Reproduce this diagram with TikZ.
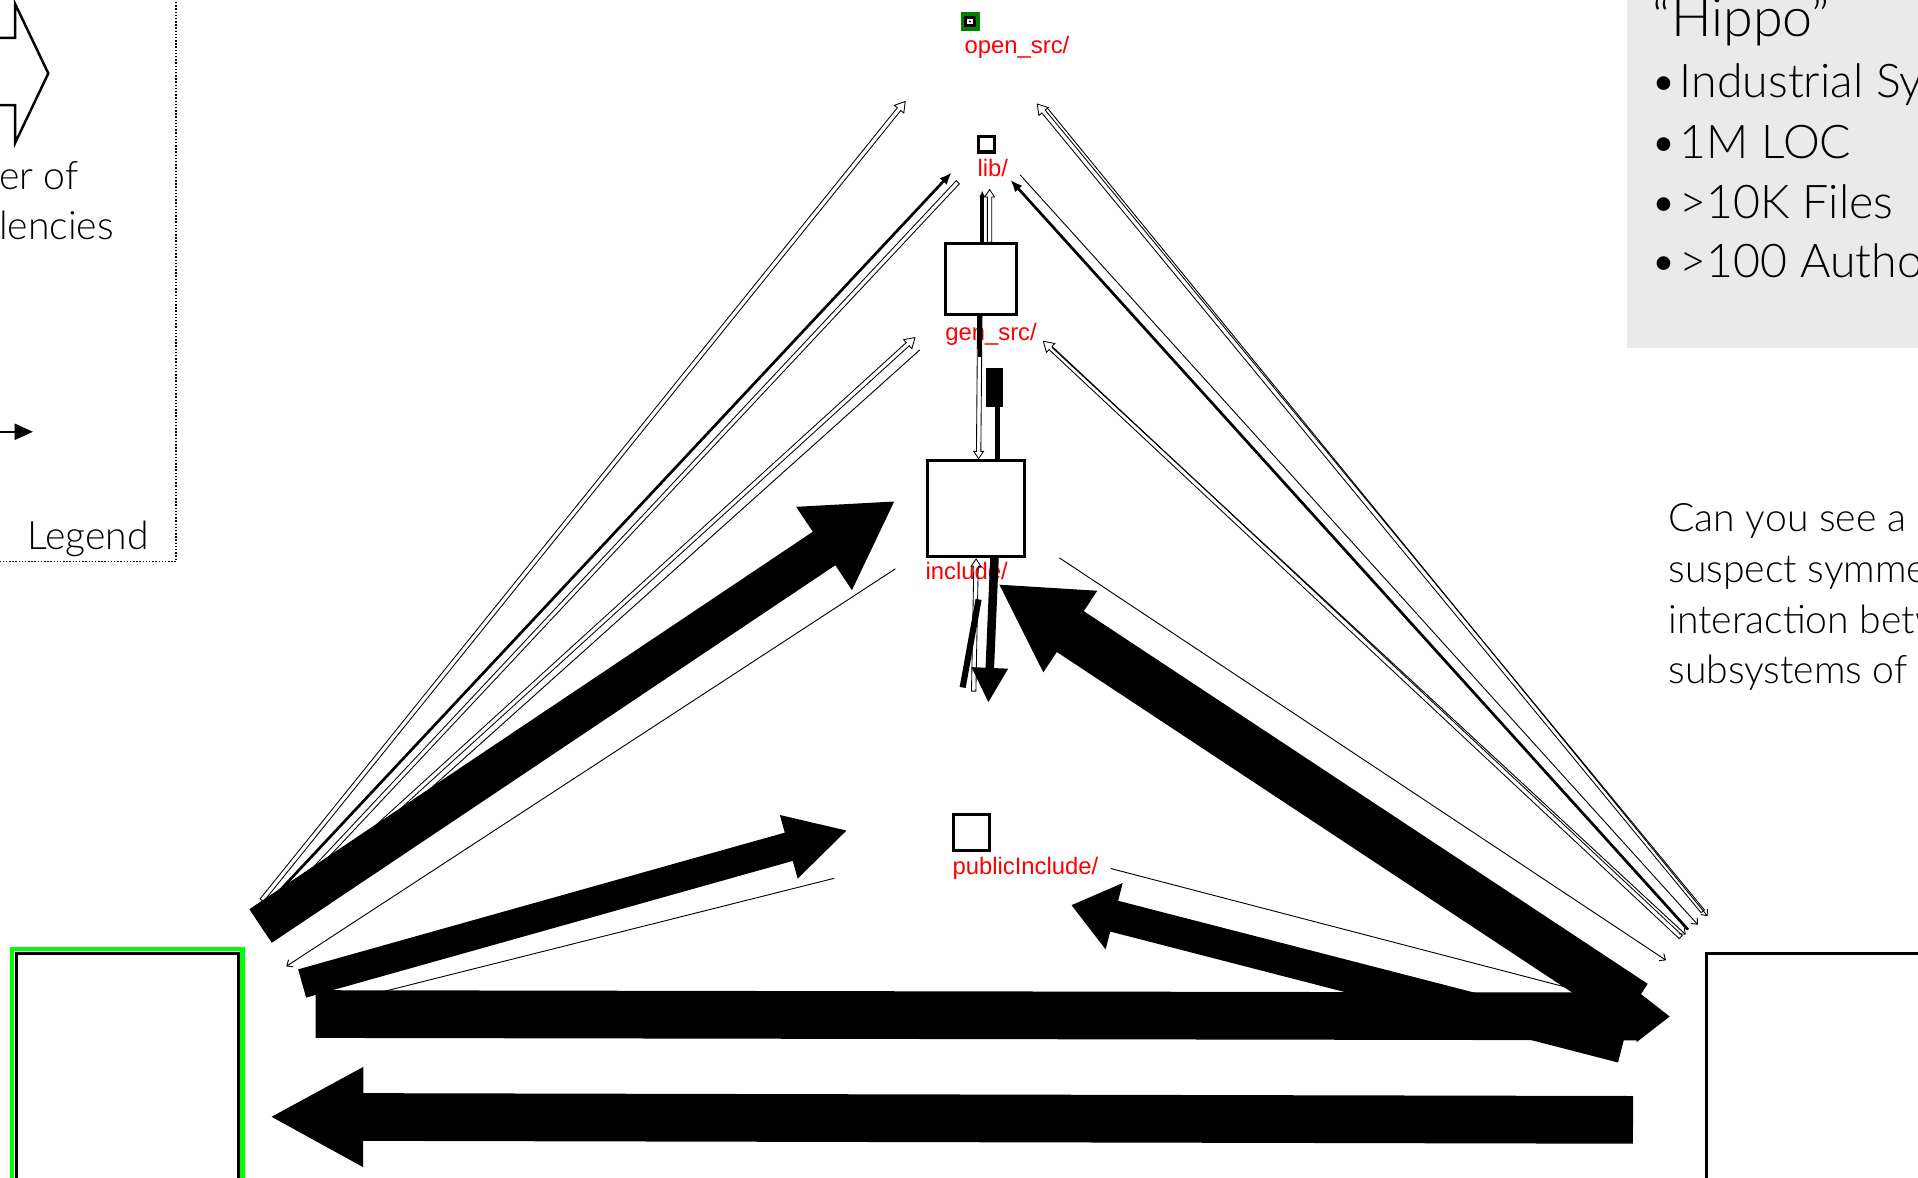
\documentclass[tikz,border=0pt]{standalone}
\usepackage{fontspec}
\IfFontExistsTF{Lato Light}{\setmainfont{Lato Light}}{\setmainfont{Lato}}
\newfontfamily\labfont{Liberation Sans}
\usetikzlibrary{calc,arrows.meta}
\definecolor{panelgray}{RGB}{234,234,234}
\definecolor{labred}{RGB}{255,0,0}
\definecolor{ringgreen}{RGB}{0,255,0}
\definecolor{osgreen}{RGB}{0,128,0}
\tikzset{
  box/.style={draw=black, line width=2.5pt, fill=white, inner sep=0pt, outer sep=0pt},
  lab/.style={text=labred, font=\labfont\fontsize{19.5}{22}\selectfont, anchor=base west, inner sep=0pt},
  slidetext/.style={font=\fontsize{32}{38}\selectfont, anchor=base west, inner sep=0pt, text=black},
  bullettext/.style={font=\fontsize{38}{44}\selectfont, anchor=base west, inner sep=0pt, text=black},
  fatarrow/.style={fill=black},
  hollowarrow/.style={draw=black, line width=0.7pt, line join=miter},
  solidarrow/.style={draw=black, line width=2.2pt, -{Latex[length=10pt,width=8pt]}},
  thinarrow/.style={draw=black, line width=0.75pt, -{Straight Barb[length=4pt,width=7pt]}},
  thinline/.style={draw=black, line width=0.75pt},
}
% block arrow: [style]{tail}{tip}{shaft half width}{head half width}{head length}
\newcommand{\blockarr}[6][]{%
  \coordinate (bahead) at ($(#3)!#6!(#2)$);
  \path[#1] ($(#2)!#4!90:(#3)$) -- ($(bahead)!#4!90:(#3)$) -- ($(bahead)!#5!90:(#3)$) -- (#3)
     -- ($(bahead)!#5!-90:(#3)$) -- ($(bahead)!#4!-90:(#3)$) -- ($(#2)!#4!-90:(#3)$) -- cycle;
}
\newcommand{\blt}{\makebox[10pt][c]{•}\hspace{8pt}}
\begin{document}
\begin{tikzpicture}[x=1pt,y=-1pt]
\useasboundingbox (0,0) rectangle (1568,963);
\clip (0,0) rectangle (1568,963);
\fill[white] (0,0) rectangle (1568,963);

% ---------- right info panel ----------
\node[fill=panelgray, minimum width=250, minimum height=290, anchor=north west, inner sep=0pt] (panel) at (1330,-6) {};
\node[anchor=base west, inner sep=0pt, font=\fontsize{44}{50}\selectfont] (hippo) at (1351,30) {“Hippo”};
\node[bullettext] (b1) at (1355,80) {\blt Industrial Sys};
\node[bullettext] (b2) at (1355,129.5) {\blt 1M LOC};
\node[bullettext] (b3) at (1355,178.5) {\blt >10K Files};
\node[bullettext] (b4) at (1355,227) {\blt >100 Autho};

\node[slidetext] (q1) at (1363.7,434.5) {Can you see a};
\node[slidetext] (q2) at (1363.7,476) {suspect symme};
\node[slidetext] (q3) at (1363.7,517.5) {interaction betw};
\node[slidetext] (q4) at (1363.7,559) {subsystems of t};

% ---------- legend ----------
\draw[line width=1.2pt, dash pattern=on 1.2pt off 1.4pt] (-6,-6) rectangle (144,459);
\draw[line width=2pt, line join=miter] (-6,31) -- (12.3,31) -- (12.3,3) -- (39.5,60) -- (12.3,117) -- (12.3,86) -- (-6,86);
\node[slidetext] (legA) at (-1,155) {er of};
\node[slidetext] (legB) at (-1,196) {lencies};
\coordinate (legS) at (-6,353);
\coordinate (legE) at (27,353);
\draw[line width=2pt, -{Triangle[length=15pt,width=13pt]}] (legS) -- (legE);
\node[slidetext] (legend) at (22,449) {Legend};

% ---------- red labels ----------
\node[lab] (lab-os) at (788.4,43.6) {open\_src/};
\node[lab] (lab-lib) at (799,144.4) {lib/};
\node[lab] (lab-gen) at (772.6,278) {gen\_src/};
\node[lab] (lab-inc) at (756.5,474) {include/};
\node[lab] (lab-pub) at (778.5,715.3) {publicInclude/};

% ---------- connector end points ----------
% left fan
\coordinate (L1) at (214,736);   \coordinate (os1) at (740,83);
\coordinate (L2) at (211,747);   \coordinate (lib1) at (778,141);
\coordinate (lib2) at (783,149); \coordinate (L3) at (221,749);
\coordinate (L4) at (238,740);   \coordinate (gen1) at (748,276);
\coordinate (gen2) at (752,286); \coordinate (L5) at (230,754);
\coordinate (L6) at (213,757);   \coordinate (inc1) at (731,410);
\coordinate (inc2) at (732,465); \coordinate (L7) at (234,790);
\coordinate (L8) at (247,804);   \coordinate (pub1) at (692,679);
\coordinate (pub2) at (682,718); \coordinate (L9) at (268,822);
\coordinate (L10) at (258,829);  \coordinate (R1) at (1365,831);
\coordinate (R2) at (1335,915.5);\coordinate (L11) at (222,913);
% right fan
\coordinate (R3) at (1392,745);  \coordinate (os2) at (848,85);
\coordinate (os3) at (856,88);   \coordinate (R4) at (1396,749);
\coordinate (R5) at (1380,760);  \coordinate (lib3) at (826,147);
\coordinate (lib4) at (834,143); \coordinate (R6) at (1388,756);
\coordinate (R7) at (1374,766);  \coordinate (gen3) at (853,279);
\coordinate (gen4) at (860,284); \coordinate (R8) at (1378,764);
\coordinate (inc3) at (866,456); \coordinate (R9) at (1362,785);
\coordinate (pub3) at (908,710); \coordinate (R10) at (1330,820);
\coordinate (R11) at (1336,821); \coordinate (inc4) at (817,478);
\coordinate (R12) at (1326,856); \coordinate (pub4) at (876,740);
% centre column
\coordinate (gen5) at (803,198); \coordinate (lib5) at (803,156);
\coordinate (gen6) at (809,198); \coordinate (lib6) at (809,155);
\coordinate (gen7) at (801,258); \coordinate (gen7b) at (801,292); \coordinate (inc5) at (800,375);
\coordinate (inc6) at (815.5,375); \coordinate (gen8) at (815.5,333);
\coordinate (inc7) at (813,456); \coordinate (pub5) at (808,574);
\coordinate (inc8) at (800,490); \coordinate (pub6) at (787,562);
\coordinate (pub7) at (796,565); \coordinate (inc9) at (798,457);

% ---------- thin connectors ----------
\blockarr[hollowarrow]{L1}{os1}{1.8pt}{5pt}{8pt}
\blockarr[hollowarrow]{lib2}{L3}{1.8pt}{5pt}{8pt}
\blockarr[hollowarrow]{L4}{gen1}{1.8pt}{5pt}{8pt}
\draw[thinarrow] (gen2) -- (L5);
\draw[thinarrow] (inc2) -- (L7);
\draw[thinline] (pub2) -- (L9);
\draw[solidarrow] (L2) -- (lib1);

\blockarr[hollowarrow]{R3}{os2}{1.8pt}{5pt}{8pt}
\draw[thinarrow] (os3) -- (R4);
\draw[solidarrow] (R5) -- (lib3);
\draw[thinarrow] (lib4) -- (R6);
\blockarr[hollowarrow]{R7}{gen3}{1.8pt}{5pt}{8pt}
\draw[thinarrow] (gen4) -- (R8);
\draw[thinarrow] (inc3) -- (R9);
\draw[thinline] (pub3) -- (R10);

% centre column
\draw[line width=3pt, -{Latex[length=5pt,width=5pt]}] (gen5) -- (lib5);
\blockarr[hollowarrow]{gen6}{lib6}{1.8pt}{4pt}{6pt}
\draw[line width=3pt] (gen7) -- (gen7b);
\blockarr[hollowarrow]{gen7}{inc5}{1.8pt}{4pt}{6pt}
\draw[line width=4.5pt] (inc6) -- (gen8);
\fill (806,301) rectangle (820,333);
\draw[line width=5pt] (inc8) -- (pub6);
\blockarr[hollowarrow]{pub7}{inc9}{1.8pt}{4pt}{6pt}

% ---------- fat connectors ----------
\blockarr[fatarrow]{L6}{inc1}{16.5pt}{41pt}{69pt}
\blockarr[fatarrow]{L8}{pub1}{12pt}{27pt}{49pt}
\blockarr[fatarrow]{L10}{R1}{19.5pt}{21pt}{27pt}
\blockarr[fatarrow]{R2}{L11}{19.5pt}{41pt}{75pt}
\blockarr[fatarrow]{R11}{inc4}{20pt}{40pt}{69.5pt}
\blockarr[fatarrow]{R12}{pub4}{13pt}{28pt}{36pt}
\blockarr[fatarrow]{inc7}{pub5}{3.5pt}{15pt}{28pt}

% ---------- nodes ----------
\node[fill=osgreen, minimum size=15.5, inner sep=0pt] (opensrc) at (793,17.5) {};
\fill[black] ($(opensrc)+(-4.75,-4.75)$) rectangle ($(opensrc)+(4.75,4.75)$);
\fill[white] ($(opensrc)+(-2.2,-2.2)$) rectangle ($(opensrc)+(2.2,2.2)$);
\fill[black] (opensrc) circle (0.9);
\node[box, minimum size=12.5] (lib) at (806.5,118) {};
\node[box, minimum width=57.5, minimum height=57.5] (gensrc) at (802,228) {};
\node[box, minimum width=79.5, minimum height=78.5] (include) at (798,415.5) {};
\node[box, minimum size=29.5] (pubinc) at (794.5,680.5) {};
\node[box, minimum width=181.5, minimum height=240, anchor=north west] (Lnode) at (13.25,779.25) {};
\draw[ringgreen, line width=3.4pt] ($(Lnode.north west)+(-3.5,-3.5)$) rectangle ($(Lnode.south east)+(3.5,3.5)$);
\node[box, minimum width=320, minimum height=240, anchor=north west] (Rnode) at (1395.25,779.25) {};
\end{tikzpicture}
\end{document}
